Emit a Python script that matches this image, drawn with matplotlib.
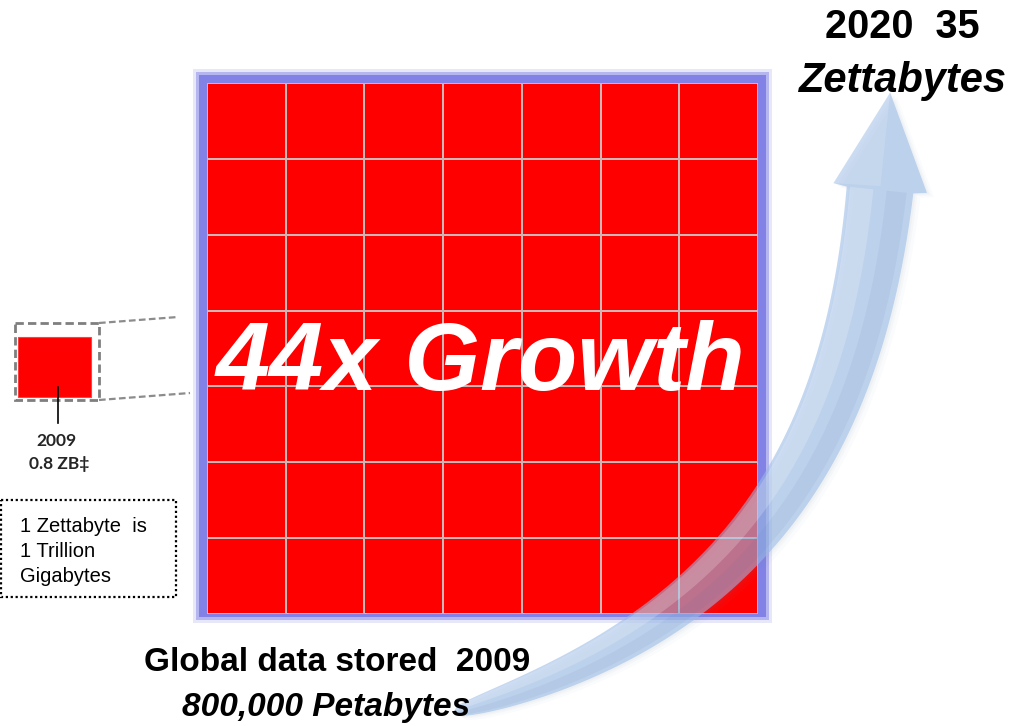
import numpy as np
import matplotlib
matplotlib.use("Agg")
import matplotlib.pyplot as plt
from matplotlib.patches import Rectangle, Polygon
from matplotlib.colors import ListedColormap

# ---------------- data ----------------
years = [2009, 2020]
zettabytes = [0.8, 35]
growth_factor = 44
grid_rows = 7
grid_cols = 7
title_lines = ["2020  35", "Zettabytes"]
bottom_lines = ["Global data stored  2009", "800,000 Petabytes"]
small_labels = ["2009", "0.8 ZB\u2021"]
note_lines = ["1 Zettabyte  is", "1 Trillion", "Gigabytes"]
growth_label = f"{growth_factor}x Growth"

W, H = 1014, 726
fig = plt.figure(figsize=(W / 100, H / 100), dpi=100)
fig.patch.set_facecolor("white")

# background axes in pixel coordinates
bg = fig.add_axes([0, 0, 1, 1])
bg.set_xlim(0, W)
bg.set_ylim(H, 0)
bg.axis("off")

# glow + blue frame around grid
for pad, col, a in [(14, "#d0d0f6", 0.5), (11, "#a9a9ee", 0.8), (8, "#8282e6", 1.0)]:
    bg.add_patch(Rectangle((207 - pad, 83 - pad), 551 + 2 * pad, 531 + 2 * pad - 5,
                           facecolor=col, edgecolor="none", alpha=a))

# small 2009 square with dashed box and connectors
bg.add_patch(Rectangle((15, 323), 84, 77, facecolor="none", edgecolor="#7f7f7f",
                       linestyle=(0, (3, 1.5)), linewidth=2.0))
bg.add_patch(Rectangle((18, 337), 73, 60, facecolor="#ff0000", edgecolor="#ff4040", linewidth=0.8))
bg.plot([99, 178], [323, 317], color="#8c8c8c", linestyle=(0, (3, 1.5)), linewidth=1.6)
bg.plot([99, 190], [400, 393], color="#8c8c8c", linestyle=(0, (3, 1.5)), linewidth=1.6)
bg.plot([58, 58], [387, 423], color="black", linewidth=1.2)
bg.text(56, 441, small_labels[0], ha="center", va="center", fontsize=12.5,
        fontweight="bold", color="#262626", family=["Lato", "DejaVu Sans"])
bg.text(59, 464, small_labels[1], ha="center", va="center", fontsize=12.5,
        fontweight="bold", color="#262626", family=["Lato", "DejaVu Sans"])

# note box
bg.add_patch(Rectangle((1, 500), 175, 97, facecolor="none", edgecolor="black",
                       linestyle=(0, (1, 1.2)), linewidth=1.6))
for i, line in enumerate(note_lines):
    bg.text(20, 532 + i * 25, line, ha="left", va="baseline", fontsize=14.5,
            color="black", family="Liberation Sans")

# ---------------- grid of red cells ----------------
gx0, gy0, gw, gh = 207 / W, 1 - 614 / H, 551 / W, 531 / H
gax = fig.add_axes([gx0, gy0, gw, gh])
gax.set_zorder(1)
cells = np.ones((grid_rows, grid_cols))
gax.pcolormesh(np.arange(grid_cols + 1), np.arange(grid_rows + 1), cells,
               cmap=ListedColormap(["#ff0000"]), edgecolors="#c8b8b8", linewidth=1.3)
gax.set_xlim(0, grid_cols)
gax.set_ylim(grid_rows, 0)
gax.axis("off")

# ---------------- overlay (text + arrow) ----------------
top = fig.add_axes([0, 0, 1, 1])
top.set_zorder(2)
top.patch.set_alpha(0)
top.set_xlim(0, W)
top.set_ylim(H, 0)
top.axis("off")

top.text(480, 390, growth_label, ha="center", va="baseline", fontsize=70,
         fontweight="bold", fontstyle="italic", color="white", family="Liberation Sans")

# curved arrow
P0 = np.array([455.0, 712.0])
P1 = np.array([760.0, 625.0])
P2 = np.array([855.0, 430.0])
P3 = np.array([880.0, 190.0])
t = np.linspace(0, 1, 300)[:, None]
pts = (1 - t) ** 3 * P0 + 3 * (1 - t) ** 2 * t * P1 + 3 * (1 - t) * t ** 2 * P2 + t ** 3 * P3
d = 3 * (1 - t) ** 2 * (P1 - P0) + 6 * (1 - t) * t * (P2 - P1) + 3 * t ** 2 * (P3 - P2)
u = d / np.linalg.norm(d, axis=1, keepdims=True)
n = np.column_stack([-u[:, 1], u[:, 0]])
w = (3 + 64 * t[:, 0] ** 0.4)[:, None]

def band(a, b):
    return np.vstack([pts + n * w * a, (pts + n * w * b)[::-1]])

c, uu, nn = pts[-1], u[-1], n[-1]
wing_a = c + nn * 47 + uu * 2
wing_b = c - nn * 47 + uu * 2
tip = c + uu * 98
side_a = pts + n * w * 0.5
side_b = pts - n * w * 0.5
outline = np.vstack([side_a, [wing_a, tip, wing_b], side_b[::-1]])

# soft shadow (filled, no stroke)
for off, a in [(7, 0.03), (4, 0.04), (2, 0.04)]:
    top.add_patch(Polygon(outline + np.array([off, off * 0.6]), closed=True,
                          facecolor="#7088a8", edgecolor="none", alpha=a))
top.add_patch(Polygon(outline, closed=True, facecolor=(0.60, 0.73, 0.90),
                      edgecolor="none", alpha=0.58))
# light stripe on left side, slightly darker on right
top.add_patch(Polygon(band(-0.45, -0.10), closed=True, facecolor="white",
                      edgecolor="none", alpha=0.2))
top.add_patch(Polygon(band(0.10, 0.40), closed=True, facecolor=(0.35, 0.45, 0.70),
                      edgecolor="none", alpha=0.08))
head_l = np.array([wing_b, tip, c + uu * 4])
top.add_patch(Polygon(head_l, closed=True, facecolor="white", edgecolor="none", alpha=0.15))

# titles
top.text(902, 38, title_lines[0], ha="center", va="baseline", fontsize=28.5,
         fontweight="bold", color="black", family="Liberation Sans")
top.text(903, 92, title_lines[1], ha="center", va="baseline", fontsize=30,
         fontweight="bold", fontstyle="italic", color="black", family="Liberation Sans")
top.text(337, 671, bottom_lines[0], ha="center", va="baseline", fontsize=24,
         fontweight="bold", color="black", family="Liberation Sans")
top.text(326, 716, bottom_lines[1], ha="center", va="baseline", fontsize=24,
         fontweight="bold", fontstyle="italic", color="black", family="Liberation Sans")

fig.savefig("out.png", dpi=100, facecolor="white")
